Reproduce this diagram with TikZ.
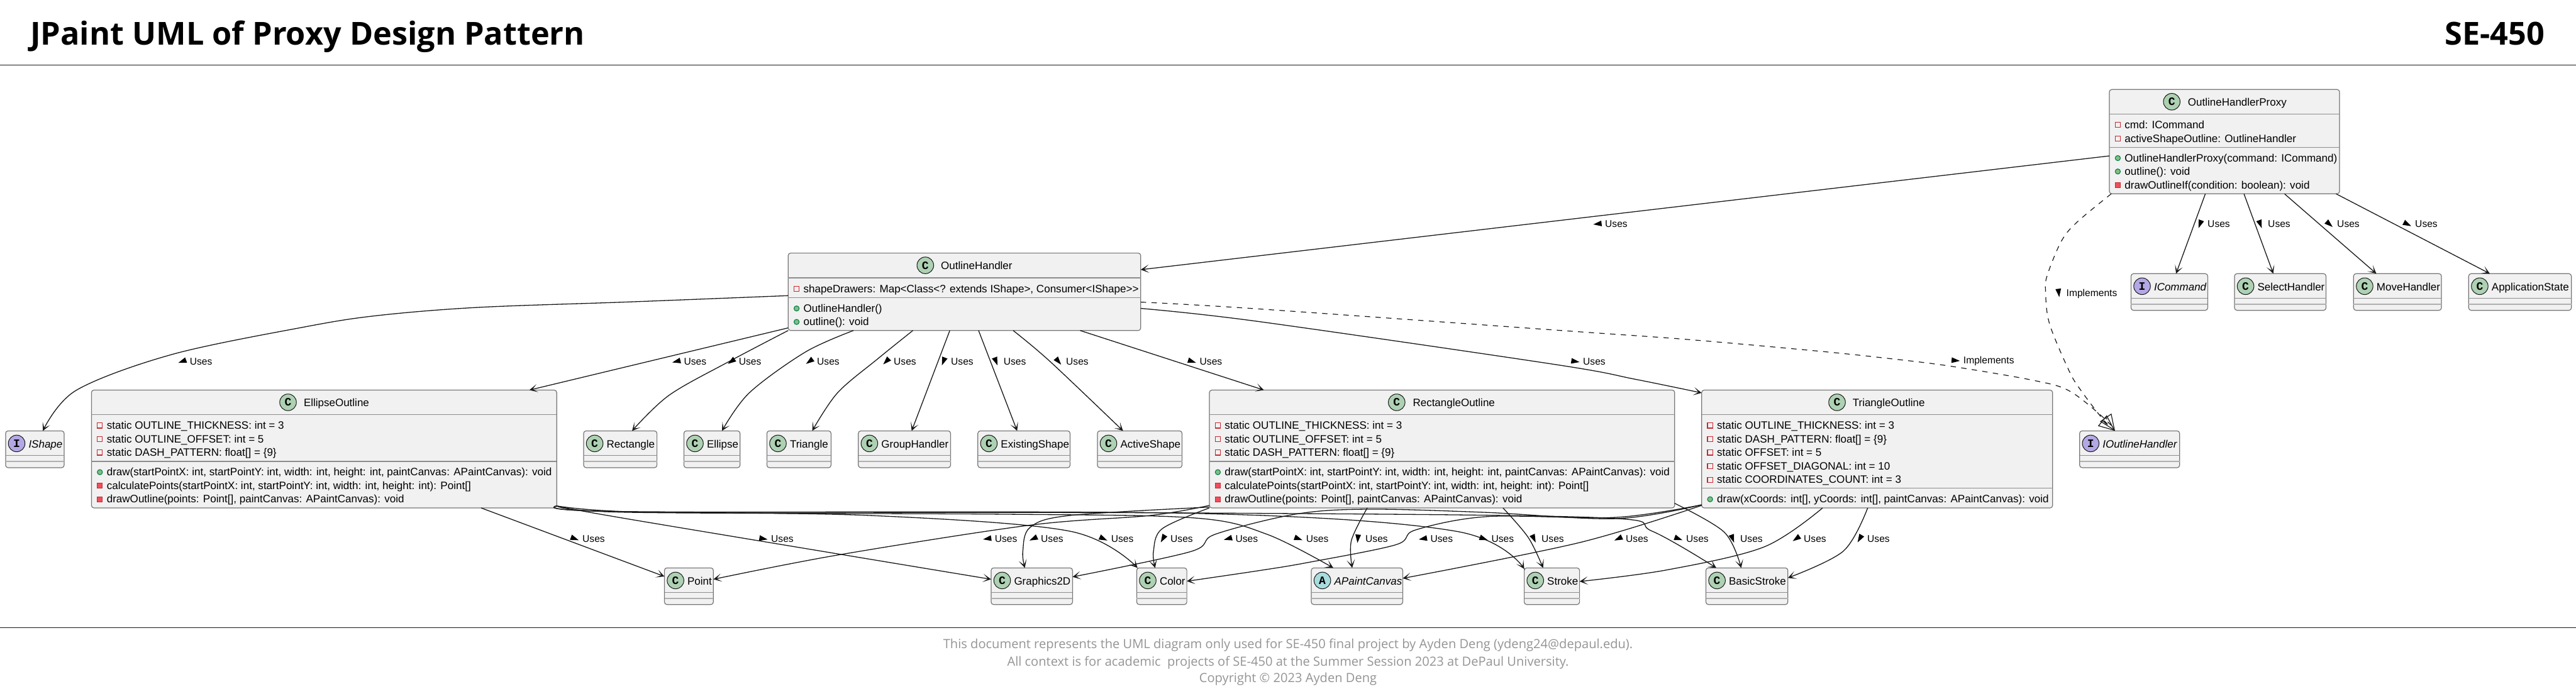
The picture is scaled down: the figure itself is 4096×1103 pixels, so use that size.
\documentclass[tikz,border=0pt]{standalone}
\usepackage{fontspec}
\setmainfont{Liberation Sans}
\newfontfamily\osans{Open Sans}
\newfontfamily\monof{Liberation Mono}
\usetikzlibrary{arrows.meta}
\definecolor{edgec}{HTML}{181818}
\definecolor{boxf}{HTML}{F1F1F1}
\definecolor{boxl}{HTML}{767676}
\definecolor{sepl}{HTML}{8C8C8C}
\definecolor{circC}{HTML}{ADD1B2}
\definecolor{circI}{HTML}{B4A7E5}
\definecolor{circA}{HTML}{A9DCDF}
\definecolor{redl}{HTML}{C82930}
\definecolor{redf}{HTML}{F24D5C}
\definecolor{grnl}{HTML}{038048}
\definecolor{grnf}{HTML}{84BE84}
\tikzset{
  x=1pt,y=-1pt,
  cbox/.style={draw=boxl,fill=boxf,line width=1.2pt,rounded corners=4pt,inner sep=0pt,outer sep=0pt},
  sepa/.style={draw=sepl,line width=1.2pt},
  sepb/.style={draw=sepl!70,line width=1.8pt},
  badge/.style={circle,draw=edgec,line width=1pt,minimum size=26.5pt,inner sep=0pt,text=black,font=\monof\bfseries\fontsize{18pt}{18pt}\selectfont},
  isC/.style={badge,fill=circC},
  isI/.style={badge,fill=circI},
  isA/.style={badge,fill=circA},
  nametext/.style={anchor=base west,inner sep=0pt,font=\fontsize{17pt}{20pt}\selectfont,text=black},
  rowtext/.style={anchor=base west,inner sep=0pt,font=\fontsize{17.05pt}{20pt}\selectfont,text=black},
  labtext/.style={anchor=base west,inner sep=0pt,font=\fontsize{15.6pt}{18pt}\selectfont,text=black},
  privfield/.style={draw=redl,fill=boxf,line width=1.1pt,inner sep=0pt,minimum size=8.2pt},
  privmeth/.style={draw=redl,fill=redf,line width=1.1pt,inner sep=0pt,minimum size=8.2pt},
  pubmeth/.style={circle,draw=grnl,fill=grnf,line width=1.1pt,inner sep=0pt,minimum size=8.2pt},
  uses/.style={draw=edgec,line width=1.3pt,-{Stealth[length=13pt,width=13pt,inset=8pt]}},
  impl/.style={draw=edgec,line width=1.2pt,dash pattern=on 8.5pt off 8.5pt,-{Triangle[open,length=26pt,width=22pt]}},
  curve/.style={smooth,tension=0.55},
  rule/.style={draw=edgec,line width=1.4pt},
  ltri/.style={fill=black},
  title/.style={anchor=base,inner sep=0pt,font=\osans\bfseries\fontsize{50.4pt}{50pt}\selectfont,text=black},
  foot/.style={anchor=base,inner sep=0pt,font=\osans\fontsize{20.1pt}{24pt}\selectfont,text=black!42},
}
\newcounter{labc}
\newcommand\umlbox[5]{\node[cbox,minimum width={#4-#2},minimum height={#5-#3},anchor=north west] (#1) at (#2,#3) {};}
\newcommand\umlsep[3]{\draw[#3] (#1.west |- 0,#2) -- (#1.east |- 0,#2);}
\newcommand\umlsmall[8]{%
  \umlbox{#1}{#2}{#3}{#4}{#5}
  \node[#6] (#1-c) at ([xshift=17.6pt,yshift=-20pt]#1.north west) {#7};
  \node[nametext] (#1-t) at ([xshift=36.4pt,yshift=-26.7pt]#1.north west) {#8};
  \umlsep{#1}{#3+39}{sepa}
  \umlsep{#1}{#3+48.6}{sepb}}
\newcommand\umlbig[8]{%
  \umlbox{#1}{#2}{#3}{#4}{#5}
  \node[isC] (#1-c) at (#6,#3+19.5) {C};
  \node[nametext] (#1-t) at (#7,#3+26.3) {#8};}
\newcommand\umlrow[5]{%
  \node[#4] (#1-#2-i) at ([xshift=13.4pt]#1.west |- 0,#3+0.5) {};
  \node[rowtext] (#1-#2) at ([xshift=24.2pt]#1.west |- 0,#3+6) {#5};}
\newcommand\lab[4]{%
  \stepcounter{labc}%
  \fill[ltri,shift={(#1-12,#2)},rotate=#3] (6.6,0)--(-6.6,4.5)--(-6.6,-4.5)--cycle;
  \node[labtext] (lab\arabic{labc}) at (#1,#2+5) {#4};}
\begin{document}
\begin{tikzpicture}
\useasboundingbox (0,0) rectangle (4096,1103);
% header and footer
\coordinate (hl) at (0,103.3); \coordinate (hr) at (4096,103.3);
\coordinate (fl) at (0,998.3); \coordinate (fr) at (4096,998.3);
\draw[rule] (hl) -- (hr);
\draw[rule] (fl) -- (fr);
\node[title,anchor=base west] (ttl) at (48,71) {JPaint UML of Proxy Design Pattern};
\node[title,anchor=base east] (ttr) at (4046,71) {SE-450};
\node[foot] (f1) at (2048,1031.7) {This document represents the UML diagram only used for SE-450 final project by Ayden Deng (ydeng24@depaul.edu).};
\node[foot] (f2) at (2048,1059) {All context is for academic\ \ projects of SE-450 at the Summer Session 2023 at DePaul University.};
\node[foot] (f3) at (2048,1085.7) {Copyright © 2023 Ayden Deng};

% large classes
\umlbig{proxy}{3354}{142.3}{3720}{308.3}{3453.2}{3478.7}{OutlineHandlerProxy}
\umlsep{proxy}{181.3}{sepa}\umlsep{proxy}{234.3}{sepa}
\umlrow{proxy}{a}{198.3}{privfield}{cmd: ICommand}
\umlrow{proxy}{b}{220}{privfield}{activeShapeOutline: OutlineHandler}
\umlrow{proxy}{c}{251}{pubmeth}{OutlineHandlerProxy(command: ICommand)}
\umlrow{proxy}{d}{272.3}{pubmeth}{outline(): void}
\umlrow{proxy}{e}{294}{privmeth}{drawOutlineIf(condition: boolean): void}

\umlbig{oh}{1253.2}{402.6}{1813.8}{525.8}{1471.3}{1496}{OutlineHandler}
\umlsep{oh}{442}{sepa}\umlsep{oh}{473.4}{sepa}
\umlrow{oh}{a}{459.2}{privfield}{shapeDrawers: Map<Class<? extends IShape>, Consumer<IShape>{}>}
\umlrow{oh}{b}{490.2}{pubmeth}{OutlineHandler()}
\umlrow{oh}{c}{511.6}{pubmeth}{outline(): void}

\umlbig{ell}{145.4}{620.5}{885.2}{808}{458}{482.8}{EllipseOutline}
\umlsep{ell}{659.4}{sepa}\umlsep{ell}{734}{sepa}
\umlrow{ell}{a}{676.4}{privfield}{static OUTLINE\_THICKNESS: int = 3}
\umlrow{ell}{b}{698}{privfield}{static OUTLINE\_OFFSET: int = 5}
\umlrow{ell}{c}{719.4}{privfield}{static DASH\_PATTERN: float[] = \{9\}}
\umlrow{ell}{d}{750.6}{pubmeth}{draw(startPointX: int, startPointY: int, width: int, height: int, paintCanvas: APaintCanvas): void}
\umlrow{ell}{e}{772.3}{privmeth}{calculatePoints(startPointX: int, startPointY: int, width: int, height: int): Point[]}
\umlrow{ell}{f}{793.7}{privmeth}{drawOutline(points: Point[], paintCanvas: APaintCanvas): void}

\umlbig{ro}{1923}{620.5}{2662.8}{808}{2220.8}{2246.3}{RectangleOutline}
\umlsep{ro}{659.4}{sepa}\umlsep{ro}{734}{sepa}
\umlrow{ro}{a}{676.4}{privfield}{static OUTLINE\_THICKNESS: int = 3}
\umlrow{ro}{b}{698}{privfield}{static OUTLINE\_OFFSET: int = 5}
\umlrow{ro}{c}{719.4}{privfield}{static DASH\_PATTERN: float[] = \{9\}}
\umlrow{ro}{d}{750.6}{pubmeth}{draw(startPointX: int, startPointY: int, width: int, height: int, paintCanvas: APaintCanvas): void}
\umlrow{ro}{e}{772.3}{privmeth}{calculatePoints(startPointX: int, startPointY: int, width: int, height: int): Point[]}
\umlrow{ro}{f}{793.7}{privmeth}{drawOutline(points: Point[], paintCanvas: APaintCanvas): void}

\umlbig{to}{2705.7}{620.5}{3263.7}{808}{2921}{2945.6}{TriangleOutline}
\umlsep{to}{659.4}{sepa}\umlsep{to}{776.7}{sepa}
\umlrow{to}{a}{676.4}{privfield}{static OUTLINE\_THICKNESS: int = 3}
\umlrow{to}{b}{698}{privfield}{static DASH\_PATTERN: float[] = \{9\}}
\umlrow{to}{c}{719.4}{privfield}{static OFFSET: int = 5}
\umlrow{to}{d}{741}{privfield}{static OFFSET\_DIAGONAL: int = 10}
\umlrow{to}{e}{762.7}{privfield}{static COORDINATES\_COUNT: int = 3}
\umlrow{to}{f}{793.7}{pubmeth}{draw(xCoords: int[], yCoords: int[], paintCanvas: APaintCanvas): void}

% small classes
\umlsmall{ishape}{8.9}{685.4}{102}{744}{isI}{I}{\itshape IShape}
\umlsmall{rectn}{928}{685.4}{1044.6}{744}{isC}{C}{Rectangle}
\umlsmall{ellp}{1087.4}{685.4}{1176.7}{744}{isC}{C}{Ellipse}
\umlsmall{tri}{1219.4}{685.4}{1321.4}{744}{isC}{C}{Triangle}
\umlsmall{grp}{1364.8}{685.4}{1511.5}{744}{isC}{C}{GroupHandler}
\umlsmall{exs}{1554.8}{685.4}{1701.5}{744}{isC}{C}{ExistingShape}
\umlsmall{act}{1744.9}{685.4}{1879.5}{744}{isC}{C}{ActiveShape}
\umlsmall{iout}{3306.7}{685.4}{3465.7}{744}{isI}{I}{\itshape IOutlineHandler}
\umlsmall{icmd}{3388.4}{435.3}{3510.4}{493.7}{isI}{I}{\itshape ICommand}
\umlsmall{sel}{3553}{435.3}{3698.5}{493.7}{isC}{C}{SelectHandler}
\umlsmall{mov}{3742.3}{435.3}{3882}{493.7}{isC}{C}{MoveHandler}
\umlsmall{app}{3925.3}{435.3}{4088.6}{493.7}{isC}{C}{ApplicationState}
\umlsmall{pt}{1056.5}{903.4}{1134.3}{961.7}{isC}{C}{Point}
\umlsmall{gfx}{1575.9}{903.4}{1705.4}{961.7}{isC}{C}{Graphics2D}
\umlsmall{col}{1807.4}{903.4}{1887.1}{961.7}{isC}{C}{Color}
\umlsmall{apc}{2085}{903.4}{2230.4}{961.7}{isA}{A}{\itshape APaintCanvas}
\umlsmall{stk}{2423.6}{903.4}{2511.6}{961.7}{isC}{C}{Stroke}
\umlsmall{bst}{2712.5}{903.4}{2842.8}{961.7}{isC}{C}{BasicStroke}

% connectors: proxy
\draw[uses] (proxy.west |- 0,248) -- (oh.east |- 0,429);
\draw[uses] (proxy.south -| 3506.6,0) -- (icmd.north -| 3460,0);
\draw[uses] (proxy.south -| 3568,0) -- (sel.north -| 3614.6,0);
\draw[uses] (proxy.south -| 3632.4,0) -- (mov.north -| 3778.5,0);
\draw[uses] (proxy.south -| 3714.4,0) -- (app.north -| 3959,0);
\draw[impl] plot[curve] coordinates {(proxy.south -| 3357,0) (3303,353) (3278,383) (3255.6,436.7) (3252.5,463) (3258.8,515) (3290,590) (3308,620) (3343,666) (iout.north -| 3363,0)};
% connectors: outline handler
\draw[impl] plot[curve] coordinates {(oh.east |- 0,480.6) (1995,491) (2500,527) (2683,540) (2893,558.7) (3001,570) (3100,582.3) (3233,605) (3290,621.7) (3343,663) (iout.north -| 3363,0)};
\draw[uses] plot[curve] coordinates {(oh.west |- 0,470.3) (1000,480.3) (760,489) (600,502) (484.7,520) (274,563.7) (121,621) (ishape.north -| 68.2,0)};
\draw[uses] (oh.west |- 0,521.6) -- (ell.north -| 841.8,0);
\draw[uses] plot[curve] coordinates {(oh.south west) (1159.4,575) (1063.8,628.8) (rectn.north -| 1005,0)};
\draw[uses] plot[curve] coordinates {(oh.south -| 1357,0) (1280.6,560) (1191.3,625) (ellp.north -| 1148,0)};
\draw[uses] plot[curve] coordinates {(oh.south -| 1451.5,0) (1395.4,571) (1331.6,625) (tri.north -| 1291.5,0)};
\draw[uses] (oh.south -| 1510.2,0) -- (grp.north -| 1449.6,0);
\draw[uses] (oh.south -| 1556,0) -- (exs.north -| 1617.3,0);
\draw[uses] plot[curve] coordinates {(oh.south -| 1611,0) (1669.6,575) (act.north -| 1785.7,0)};
\draw[uses] (oh.south -| 1717.5,0) -- (ro.north -| 2009.7,0);
\draw[uses] plot[curve] coordinates {(oh.east |- 0,490.6) (2000,511.3) (2474,580) (2600,603.3) (to.west |- 0,625)};
% connectors: ellipse outline
\draw[uses] (ell.south -| 765,0) -- (pt.west |- 0,917);
\draw[uses] plot[curve] coordinates {(ell.east |- 0,804.8) (1000,825.8) (gfx.west |- 0,921.5)};
\draw[uses] plot[curve] coordinates {(ell.east |- 0,804.8) (1000,814) (1382.6,820) (1701,845) (col.north -| 1808.7,0)};
\draw[uses] plot[curve] coordinates {(ell.east |- 0,804.8) (1000,815) (1600,818) (1900,824) (2014.8,850) (apc.north -| 2120,0)};
\draw[uses] plot[curve] coordinates {(ell.east |- 0,804.8) (1000,814) (1900,816.7) (2314.5,845) (stk.west |- 0,905)};
\draw[uses] plot[curve] coordinates {(ell.east |- 0,804.8) (1000,814) (1900,816) (2537.8,823.3) (2627,845) (bst.north -| 2729,0)};
% connectors: rectangle outline
\draw[uses] plot[curve] coordinates {(ro.west |- 0,804) (1829,820) (1637.8,835.4) (1331.6,883) (pt.east |- 0,921.5)};
\draw[uses] plot[curve] coordinates {(ro.west |- 0,806.7) (1701,820) (1637.8,839) (1626.3,877.5) (gfx.north -| 1629.5,0)};
\draw[uses] plot[curve] coordinates {(ro.south west) (1848,841) (1834,877.5) (col.north -| 1836.7,0)};
\draw[uses] plot[curve] coordinates {(ro.south -| 2174,0) (2148.7,860) (apc.north -| 2150,0)};
\draw[uses] plot[curve] coordinates {(ro.south -| 2389.8,0) (2430,855) (stk.north -| 2453.6,0)};
\draw[uses] plot[curve] coordinates {(ro.east |- 0,800.7) (2741.8,846.7) (bst.north -| 2768.6,0)};
% connectors: triangle outline
\draw[uses] plot[curve] coordinates {(to.west |- 0,803) (2570,825) (2360,815) (2174,810) (2059.4,818) (1932,850) (1893,877.5) (gfx.east |- 0,917.7)};
\draw[uses] plot[curve] coordinates {(to.west |- 0,803) (2569.6,823) (2365.6,821.7) (2250.8,843) (2219,866.7) (2078.6,895) (2000,908) (col.east |- 0,924.6)};
\draw[uses] plot[curve] coordinates {(to.west |- 0,804) (2512,863) (apc.east |- 0,920)};
\draw[uses] plot[curve] coordinates {(to.south -| 2898,0) (2805,870) (2650,906.7) (stk.east |- 0,925)};
\draw[uses] plot[curve] coordinates {(to.south -| 2969.7,0) (2931,876.7) (bst.east |- 0,919.3)};

% labels
\lab{2552}{356.2}{186.7}{Uses}
\lab{3510}{356.7}{250}{Uses}
\lab{3606}{356.7}{290}{Uses}
\lab{3716}{356.7}{319}{Uses}
\lab{3840}{356.7}{333}{Uses}
\lab{3285.5}{466}{277}{Implements}
\lab{3121.7}{573.5}{355}{Implements}
\lab{301.7}{575}{200}{Uses}
\lab{1087.4}{575}{193.5}{Uses}
\lab{1174.7}{575}{215}{Uses}
\lab{1299}{575}{216}{Uses}
\lab{1421}{575}{225}{Uses}
\lab{1512}{575}{249}{Uses}
\lab{1595.7}{575}{291}{Uses}
\lab{1695}{575}{310}{Uses}
\lab{1907.5}{575}{342}{Uses}
\lab{2517}{575}{351.5}{Uses}
\lab{926}{857}{339.5}{Uses}
\lab{1226}{857}{350}{Uses}
\lab{1581.6}{857}{189}{Uses}
\lab{1655}{857}{205}{Uses}
\lab{1766.6}{857}{335}{Uses}
\lab{1861}{857}{240}{Uses}
\lab{1964.4}{857}{195}{Uses}
\lab{2076.7}{857}{340}{Uses}
\lab{2171}{857}{265}{Uses}
\lab{2274.4}{857}{190}{Uses}
\lab{2371.3}{857}{340}{Uses}
\lab{2451}{857}{295}{Uses}
\lab{2585}{857}{205}{Uses}
\lab{2681}{857}{340}{Uses}
\lab{2767}{857}{290}{Uses}
\lab{2868}{857}{215}{Uses}
\lab{2969}{857}{240}{Uses}
\end{tikzpicture}
\end{document}
